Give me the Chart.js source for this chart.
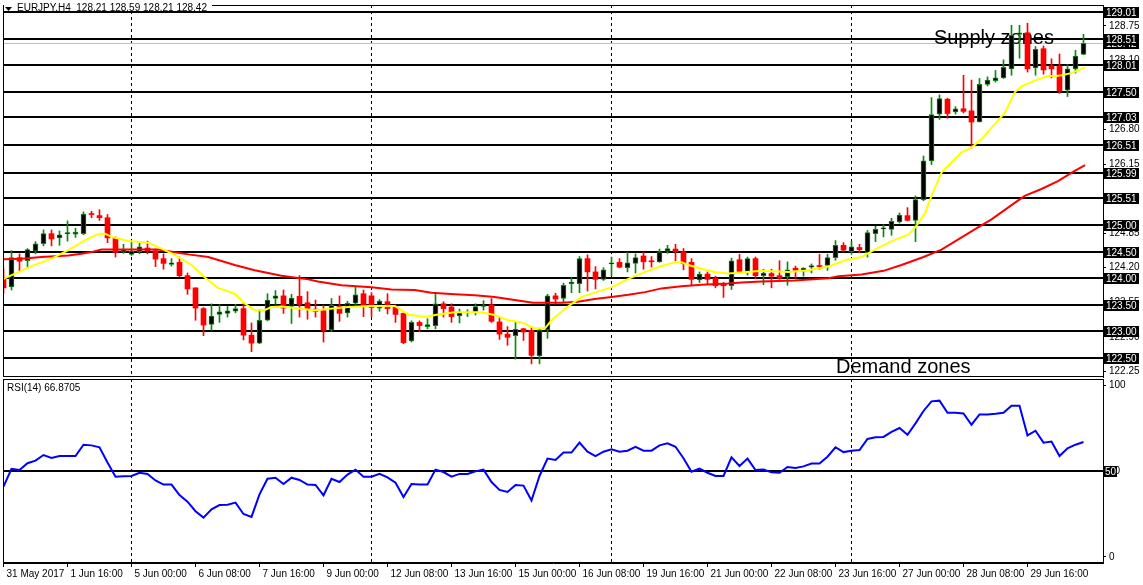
<!DOCTYPE html>
<html>
<head>
<meta charset="utf-8">
<title>EURJPY H4</title>
<script src="https://cdn.jsdelivr.net/npm/chart.js@4.4.1/dist/chart.umd.min.js"></script>
<style>
    html, body { margin: 0; padding: 0; background: #fff; }
    #wrap { position: relative; width: 1143px; height: 585px; overflow: hidden; }
    #priceCanvas { position: absolute; left: 0; top: 0; }
    #rsiCanvas { position: absolute; left: 0; top: 378px; }
</style>
</head>
<body>
<div id="wrap">
    <canvas id="priceCanvas" width="1143" height="378"></canvas>
    <canvas id="rsiCanvas" width="1143" height="207"></canvas>
</div>
<script>
/**
 * DATA (one entry per bar)
 */
const opens = [
    124.00, 123.84, 124.39, 124.33, 124.51, 124.65, 124.84, 124.76, 124.84, 124.83,
    124.84, 125.21, 125.18, 125.14, 124.75, 124.49, 124.45, 124.50, 124.57, 124.52,
    124.37, 124.26, 124.30, 124.05, 123.82, 123.43, 123.13, 123.32, 123.34, 123.38,
    123.43, 122.93, 122.78, 123.21, 123.62, 123.67, 123.47, 123.66, 123.54, 123.42,
    123.39, 123.03, 123.47, 123.35, 123.53, 123.71, 123.67, 123.44, 123.56, 123.46,
    123.34, 122.82, 123.17, 123.09, 123.11, 123.52, 123.46, 123.29, 123.35, 123.37,
    123.47, 123.50, 123.18, 122.95, 122.92, 123.05, 123.02, 122.54, 123.03, 123.67,
    123.62, 123.90, 123.90, 124.37, 124.12, 123.98, 124.27, 124.30, 124.20, 124.28,
    124.42, 124.33, 124.31, 124.51, 124.55, 124.50, 124.30, 123.97, 124.08, 124.00,
    123.89, 123.86, 124.35, 124.13, 124.37, 124.05, 124.09, 124.05, 124.03, 124.19,
    124.14, 124.21, 124.24, 124.24, 124.39, 124.62, 124.50, 124.58, 124.48, 124.84,
    124.93, 124.92, 125.06, 125.18, 125.09, 125.48, 126.21, 127.09, 127.37, 127.13,
    127.19, 127.15, 126.94, 127.65, 127.72, 127.77, 127.94, 128.59, 128.62, 127.96,
    128.32, 128.00, 127.99, 127.54, 127.94, 128.21
];
const highs = [
    124.19, 124.52, 124.46, 124.56, 124.69, 124.91, 124.91, 124.89, 125.08, 124.94,
    125.25, 125.26, 125.29, 125.20, 124.78, 124.64, 124.69, 124.66, 124.70, 124.55,
    124.46, 124.37, 124.40, 124.10, 123.82, 123.45, 123.52, 123.50, 123.47, 123.51,
    123.53, 123.16, 123.41, 123.71, 123.77, 123.78, 123.70, 124.05, 123.75, 123.59,
    123.49, 123.62, 123.67, 123.57, 123.85, 123.78, 123.73, 123.60, 123.71, 123.50,
    123.35, 123.20, 123.20, 123.24, 123.72, 123.56, 123.52, 123.42, 123.41, 123.52,
    123.58, 123.62, 123.27, 123.09, 123.18, 123.06, 123.08, 123.06, 123.70, 123.72,
    123.91, 124.01, 124.41, 124.44, 124.22, 124.20, 124.40, 124.37, 124.49, 124.46,
    124.49, 124.41, 124.55, 124.62, 124.64, 124.56, 124.37, 124.12, 124.12, 124.04,
    123.92, 124.38, 124.45, 124.40, 124.40, 124.17, 124.17, 124.33, 124.31, 124.23,
    124.20, 124.27, 124.45, 124.45, 124.71, 124.67, 124.69, 124.64, 124.90, 124.98,
    125.01, 125.13, 125.23, 125.33, 125.55, 126.30, 127.40, 127.45, 127.39, 127.23,
    127.82, 127.73, 127.76, 127.79, 127.91, 128.11, 128.76, 128.76, 128.80, 128.36,
    128.37, 128.13, 128.22, 128.02, 128.29, 128.59
];
const lows = [
    123.72, 123.78, 124.13, 124.18, 124.46, 124.61, 124.61, 124.62, 124.70, 124.77,
    124.82, 125.14, 125.09, 124.67, 124.40, 124.47, 124.43, 124.46, 124.46, 124.22,
    124.17, 124.23, 124.03, 123.70, 123.21, 122.92, 123.02, 123.17, 123.27, 123.35,
    122.84, 122.62, 122.77, 123.20, 123.51, 123.34, 123.15, 123.27, 123.23, 123.27,
    122.80, 123.00, 123.19, 123.27, 123.50, 123.28, 123.28, 123.38, 123.33, 123.17,
    122.77, 122.80, 123.00, 123.05, 123.05, 123.27, 123.17, 123.16, 123.28, 123.31,
    123.40, 123.17, 122.85, 122.74, 122.48, 122.83, 122.39, 122.39, 122.87, 123.51,
    123.55, 123.73, 123.73, 123.76, 123.80, 123.96, 124.05, 124.20, 124.12, 124.10,
    124.17, 124.21, 124.30, 124.47, 124.33, 124.16, 123.88, 123.92, 123.88, 123.82,
    123.64, 123.79, 124.10, 124.06, 123.99, 123.88, 123.82, 123.98, 123.87, 124.00,
    124.04, 124.10, 124.17, 124.15, 124.34, 124.50, 124.45, 124.48, 124.40, 124.69,
    124.78, 124.81, 125.04, 125.08, 124.69, 125.46, 126.14, 126.99, 127.01, 127.09,
    127.11, 126.45, 126.94, 127.62, 127.69, 127.76, 127.82, 128.14, 127.88, 127.82,
    127.84, 127.77, 127.48, 127.42, 127.86, 128.21
];
const closes = [
    123.82, 124.39, 124.32, 124.54, 124.65, 124.84, 124.74, 124.82, 124.85, 124.87,
    125.21, 125.20, 125.14, 124.76, 124.49, 124.54, 124.51, 124.59, 124.52, 124.36,
    124.28, 124.29, 124.05, 123.80, 123.44, 123.12, 123.29, 123.37, 123.39, 123.43,
    122.93, 122.78, 123.21, 123.59, 123.67, 123.44, 123.63, 123.51, 123.42, 123.38,
    123.02, 123.49, 123.34, 123.53, 123.69, 123.47, 123.45, 123.57, 123.43, 123.32,
    122.79, 123.17, 123.11, 123.13, 123.52, 123.43, 123.28, 123.37, 123.36, 123.47,
    123.48, 123.19, 122.95, 122.89, 123.04, 122.99, 122.55, 123.03, 123.67, 123.61,
    123.87, 123.93, 124.37, 124.12, 123.98, 124.16, 124.28, 124.21, 124.29, 124.39,
    124.31, 124.31, 124.50, 124.56, 124.50, 124.28, 123.98, 124.08, 123.98, 123.86,
    123.86, 124.33, 124.13, 124.37, 124.05, 124.10, 124.04, 124.00, 124.16, 124.15,
    124.19, 124.24, 124.22, 124.39, 124.62, 124.53, 124.59, 124.54, 124.86, 124.92,
    124.94, 125.07, 125.19, 125.09, 125.48, 126.21, 127.08, 127.38, 127.10, 127.19,
    127.14, 126.94, 127.65, 127.73, 127.77, 127.97, 128.57, 128.62, 127.94, 128.31,
    127.92, 127.94, 127.52, 127.94, 128.18, 128.42
];
const rsiValues = [
    40.9, 51.2, 50.6, 54.5, 56.0, 59.3, 57.6, 58.7, 58.7, 58.7,
    65.3, 64.9, 63.8, 55.0, 46.7, 47.0, 47.1, 49.0, 48.3, 44.5,
    42.1, 42.1, 36.0, 32.2, 26.6, 22.9, 27.7, 30.2, 30.4, 31.6,
    25.0, 23.3, 36.4, 45.5, 46.1, 42.4, 46.1, 44.8, 42.1, 41.9,
    35.9, 45.5, 43.6, 47.9, 50.8, 46.7, 46.7, 48.4, 46.3, 43.2,
    34.9, 42.4, 42.2, 42.1, 50.8, 49.4, 46.7, 48.3, 48.3, 49.8,
    50.8, 43.6, 39.0, 37.8, 41.9, 41.5, 32.8, 47.1, 57.2, 56.4,
    60.7, 60.7, 66.5, 61.2, 58.7, 61.2, 62.6, 61.2, 61.8, 64.1,
    61.8, 61.8, 64.9, 66.1, 64.1, 57.4, 49.6, 51.4, 49.0, 47.1,
    47.1, 57.9, 52.9, 57.2, 50.6, 50.8, 49.2, 49.0, 52.3, 51.7,
    52.7, 54.3, 54.3, 58.3, 63.8, 61.0, 61.8, 62.2, 68.6, 69.6,
    69.8, 72.7, 75.0, 71.1, 77.7, 84.9, 90.5, 90.9, 83.9, 83.9,
    83.5, 76.9, 82.9, 82.9, 83.3, 83.9, 88.0, 88.0, 70.7, 73.4,
    66.5, 67.1, 58.7, 63.2, 65.3, 66.87
];

// yellow (fast) moving average, sampled where read
const fastMaBars = [
    0, 3.5, 6, 8.1, 10.2, 11.8, 12.7, 13.5, 15.6, 18.1, 19.75, 21.4, 23.5, 25.2, 26.8, 28.9,
    30.1, 31.4, 32.6, 33.5, 34.75, 38.9, 43.1, 46, 48.9, 50.6, 52.7, 54.3, 56.4, 59.75, 61.4,
    63.1, 64.75, 66.4, 67.7, 68.5, 69.75, 70.2, 72.25, 73.9, 76, 78.1, 80.2, 82.25, 83.9, 84.75,
    85.6, 87.25, 88.9, 90.6, 92.25, 94.75, 98.1, 100.6, 103.1, 105.2, 107.25, 108.9, 111, 113.1,
    114.1, 115.2, 116, 117.25, 118.5, 119.75, 121, 122.25, 123.9, 125.2, 126.4, 127.25, 128.9,
    130.6, 131.4, 132.25, 133.5, 134.75, 135.2
];
const fastMaValues = [
    123.99, 124.23, 124.37, 124.53, 124.72, 124.83, 124.84, 124.78, 124.70, 124.67, 124.56, 124.44, 124.25, 124.01, 123.82, 123.71,
    123.53, 123.40, 123.40, 123.46, 123.47, 123.40, 123.46, 123.48, 123.48, 123.32, 123.27, 123.32, 123.36, 123.36, 123.31,
    123.21, 123.17, 123.06, 123.06, 123.21, 123.37, 123.43, 123.65, 123.73, 123.83, 123.99, 124.12, 124.23, 124.30, 124.30,
    124.25, 124.18, 124.12, 124.09, 124.11, 124.14, 124.12, 124.15, 124.22, 124.34, 124.40, 124.54, 124.70, 124.82,
    124.98, 125.23, 125.55, 125.99, 126.18, 126.37, 126.46, 126.62, 126.90, 127.12, 127.50, 127.61, 127.72,
    127.81, 127.80, 127.82, 127.86, 127.94, 127.97
];

// red (slow) moving average, sampled where read
const slowMaBars = [
    0, 2.25, 4.75, 8.1, 9.75, 11.2, 12.25, 19.3, 21.4, 23.1, 25.6, 28.9, 31.4, 34.75, 38.1, 39.3,
    42.25, 46, 48.5, 51.4, 53.5, 56.4, 58.9, 61.4, 63.9, 66.2, 69.75, 71.8, 73.9, 76, 78.1, 80.2,
    82.25, 84.75, 87.25, 90.6, 92.25, 94.75, 98.9, 103.1, 104.4, 107.25, 110, 112.25, 115, 117.25,
    121.4, 123.5, 126.4, 127.65, 129.75, 131.8, 133.9, 135.2
];
const slowMaValues = [
    124.36, 124.37, 124.40, 124.43, 124.46, 124.50, 124.54, 124.54, 124.49, 124.45, 124.40, 124.25, 124.15, 124.05, 123.98, 123.94,
    123.87, 123.83, 123.79, 123.78, 123.73, 123.70, 123.68, 123.65, 123.59, 123.54, 123.54, 123.56, 123.61, 123.65, 123.69, 123.74,
    123.81, 123.85, 123.88, 123.90, 123.92, 123.94, 123.96, 124.00, 124.04, 124.07, 124.14, 124.25, 124.40, 124.54,
    124.92, 125.11, 125.42, 125.55, 125.68, 125.83, 126.02, 126.13
];

const levels = [129.01, 128.51, 128.01, 127.50, 127.03, 126.51, 125.99, 125.51, 125.00, 124.50, 124.00, 123.50, 123.00, 122.50];
const lastPrice = 128.42;
const priceTicks = [128.75, 128.10, 127.45, 126.80, 126.15, 125.50, 124.85, 124.20, 123.55, 122.90, 122.25];
const rsiTicks = [0, 50, 100];
const rsiLevel = 50;
const timeTickBars = [0, 8, 16, 24, 32, 40, 48, 56, 64, 72, 80, 88, 96, 104, 112, 120, 128];
const timeLabels = [
    '31 May 2017', '1 Jun 16:00', '5 Jun 00:00', '6 Jun 08:00', '7 Jun 16:00', '9 Jun 00:00',
    '12 Jun 08:00', '13 Jun 16:00', '15 Jun 00:00', '16 Jun 08:00', '19 Jun 16:00', '21 Jun 00:00',
    '22 Jun 08:00', '23 Jun 16:00', '27 Jun 00:00', '28 Jun 08:00', '29 Jun 16:00'
];
const weekStarts = [16, 46, 76, 106];

const FONT = "'Liberation Sans', Arial, sans-serif";
const BULL = '#0a8a0a';
const BEAR = '#ff0000';

// text objects anchored in bar / price units
const zoneTexts = [
    { text: 'Supply zones', bar: 116.3, price: 128.41 },
    { text: 'Demand zones', bar: 104.06, price: 122.22 }
];

const isBull = opens.map((o, i) => closes[i] >= o);

function xAxis(show) {
    return {
        type: 'linear', min: -0.0625, max: 137.4375, offset: false, display: show,
        grid: { drawOnChartArea: false, drawTicks: true, tickLength: 4, color: '#000', offset: false },
        border: { display: true, color: '#000' },
        afterBuildTicks: s => { s.ticks = timeTickBars.map(v => ({ value: v })); },
        afterFit: s => {
            if (show) s.height = 22;
            s.paddingLeft = 0;
            s.paddingRight = 0;
        },
        ticks: {
            autoSkip: false, maxRotation: 0, align: 'start', labelOffset: 3, padding: 1,
            color: '#000', font: { family: FONT, size: 10 },
            callback: (v, idx) => timeLabels[idx]
        }
    };
}

function yAxis(min, max, tickList, fmt) {
    return {
        type: 'linear', position: 'right', min: min, max: max,
        afterBuildTicks: s => { s.ticks = tickList.map(v => ({ value: v })); },
        afterFit: s => {
            s.width = 40;
            s.paddingTop = 0;
            s.paddingBottom = 0;
        },
        grid: { drawOnChartArea: false, drawTicks: true, tickLength: 3, color: '#000' },
        border: { display: true, color: '#000' },
        ticks: { padding: 3, color: '#000', font: { family: FONT, size: 10 }, callback: fmt }
    };
}

function drawBox(ctx, x, py, text) {
    const y = Math.round(py);
    ctx.fillStyle = '#000';
    ctx.fillRect(x, y - 5, 35, 11);
    ctx.fillStyle = '#fff';
    ctx.font = '10px ' + FONT;
    ctx.textAlign = 'left';
    ctx.textBaseline = 'middle';
    ctx.fillText(text, x + 2, y + 1);
}

function drawSeparators(ctx, a, x) {
    ctx.strokeStyle = '#000';
    ctx.lineWidth = 1;
    ctx.setLineDash([3, 3]);
    weekStarts.forEach(b => {
        const px = x.getPixelForValue(b);
        ctx.beginPath();
        ctx.moveTo(px, a.top);
        ctx.lineTo(px, a.bottom);
        ctx.stroke();
    });
    ctx.setLineDash([]);
}

function drawFrame(ctx, a) {
    ctx.strokeStyle = '#000';
    ctx.lineWidth = 1;
    ctx.strokeRect(a.left + 0.5, a.top + 0.5, a.right - a.left, a.bottom - a.top - 1);
}

/**
 * PRICE PANEL
 */
const priceDecor = {
    id: 'priceDecor',
    beforeDatasetsDraw(chart) {
        const { ctx, chartArea: a, scales: { x, y } } = chart;
        ctx.save();
        ctx.beginPath();
        ctx.rect(a.left, a.top, a.right - a.left, a.bottom - a.top);
        ctx.clip();
        drawSeparators(ctx, a, x);

        ctx.strokeStyle = '#c0c0c0';
        ctx.lineWidth = 1;
        const lp = Math.round(y.getPixelForValue(lastPrice)) + 0.5;
        ctx.beginPath(); ctx.moveTo(a.left, lp); ctx.lineTo(a.right, lp); ctx.stroke();

        ctx.strokeStyle = '#000';
        ctx.lineWidth = 2;
        levels.forEach(v => {
            const py = Math.round(y.getPixelForValue(v));
            ctx.beginPath(); ctx.moveTo(a.left, py); ctx.lineTo(a.right, py); ctx.stroke();
        });

        ctx.fillStyle = '#000';
        ctx.font = '20px ' + FONT;
        ctx.textAlign = 'left';
        ctx.textBaseline = 'alphabetic';
        zoneTexts.forEach(t => ctx.fillText(t.text, x.getPixelForValue(t.bar), y.getPixelForValue(t.price)));
        ctx.restore();
    },
    afterDraw(chart) {
        const { ctx, chartArea: a, scales: { y } } = chart;
        ctx.save();
        drawFrame(ctx, a);

        // symbol title
        const title = 'EURJPY,H4  128.21 128.59 128.21 128.42';
        ctx.font = '10px ' + FONT;
        const w = ctx.measureText(title).width;
        ctx.fillStyle = '#fff';
        ctx.fillRect(a.left + 1, 0, w + 18, 10);
        ctx.fillStyle = '#000';
        ctx.beginPath(); ctx.moveTo(5, 7); ctx.lineTo(12, 7); ctx.lineTo(8.5, 11); ctx.closePath(); ctx.fill();
        ctx.textAlign = 'left';
        ctx.textBaseline = 'alphabetic';
        ctx.fillText(title, 17, 11);

        drawBox(ctx, a.right + 1, y.getPixelForValue(lastPrice), lastPrice.toFixed(2));
        levels.forEach(v => drawBox(ctx, a.right + 1, y.getPixelForValue(v), v.toFixed(2)));
        ctx.restore();
    }
};

new Chart(document.getElementById('priceCanvas'), {
    type: 'bar',
    data: {
        datasets: [
            {
                type: 'line', order: 0, data: fastMaBars.map((b, i) => ({ x: b, y: fastMaValues[i] })),
                borderColor: '#ffff00', borderWidth: 2, pointRadius: 0, tension: 0, clip: 0
            },
            {
                type: 'line', order: 1, data: slowMaBars.map((b, i) => ({ x: b, y: slowMaValues[i] })),
                borderColor: '#ff0000', borderWidth: 2, pointRadius: 0, tension: 0, clip: 0
            },
            {
                order: 2, grouped: false, barThickness: 5, minBarLength: 1, borderSkipped: false, clip: 0,
                data: opens.map((o, i) => ({ x: i, y: [o, closes[i]] })),
                backgroundColor: isBull.map(b => b ? '#000' : BEAR),
                borderColor: isBull.map(b => b ? BULL : BEAR),
                borderWidth: isBull.map(b => b ? 1 : 0)
            },
            {
                order: 3, grouped: false, barThickness: 1, minBarLength: 1, borderSkipped: false, clip: 0,
                data: lows.map((l, i) => ({ x: i, y: [l, highs[i]] })),
                backgroundColor: isBull.map(b => b ? BULL : BEAR),
                borderWidth: 0
            }
        ]
    },
    options: {
        responsive: false, animation: false, events: [],
        layout: { padding: { left: 3, right: 0, top: 5, bottom: 1 } },
        plugins: { legend: { display: false }, tooltip: { enabled: false } },
        scales: {
            x: xAxis(false),
            y: yAxis(122.143, 129.142, priceTicks, v => v.toFixed(2))
        }
    },
    plugins: [priceDecor]
});

/**
 * RSI PANEL
 */
const rsiDecor = {
    id: 'rsiDecor',
    beforeDatasetsDraw(chart) {
        const { ctx, chartArea: a, scales: { x, y } } = chart;
        ctx.save();
        drawSeparators(ctx, a, x);
        ctx.strokeStyle = '#000';
        ctx.lineWidth = 2;
        const py = Math.round(y.getPixelForValue(rsiLevel));
        ctx.beginPath(); ctx.moveTo(a.left, py); ctx.lineTo(a.right, py); ctx.stroke();
        ctx.restore();
    },
    afterDraw(chart) {
        const { ctx, chartArea: a, scales: { y } } = chart;
        ctx.save();
        drawFrame(ctx, a);
        ctx.fillStyle = '#000';
        ctx.font = '10px ' + FONT;
        ctx.textAlign = 'left';
        ctx.textBaseline = 'alphabetic';
        ctx.fillText('RSI(14) ' + '66.8705', 7, a.top + 12);
        const py = Math.round(y.getPixelForValue(rsiLevel));
        ctx.fillStyle = '#000';
        ctx.fillRect(a.right + 1, py - 5, 13, 11);
        ctx.fillStyle = '#fff';
        ctx.textBaseline = 'middle';
        ctx.fillText(String(rsiLevel), a.right + 2, py + 1);
        ctx.restore();
    }
};

new Chart(document.getElementById('rsiCanvas'), {
    type: 'line',
    data: {
        datasets: [{
            data: rsiValues.map((v, i) => ({ x: i, y: v })),
            borderColor: '#0000ff', borderWidth: 2, pointRadius: 0, tension: 0, clip: 0
        }]
    },
    options: {
        responsive: false, animation: false, events: [],
        layout: { padding: { left: 3, right: 0, top: 1, bottom: 0 } },
        plugins: { legend: { display: false }, tooltip: { enabled: false } },
        scales: {
            x: xAxis(true),
            y: yAxis(-3.49, 103.49, rsiTicks, v => String(v))
        }
    },
    plugins: [rsiDecor]
});
</script>
</body>
</html>
